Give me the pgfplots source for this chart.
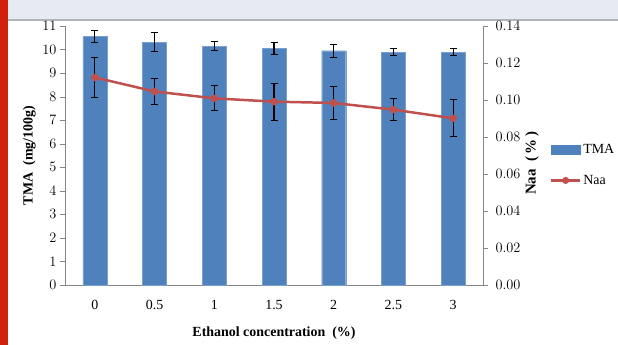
\documentclass[border=0pt]{standalone}
\usepackage{fontspec}
\setmainfont{Liberation Serif}
\usepackage{pgfplots}
\pgfplotsset{compat=1.18}
\definecolor{barblue}{HTML}{4F81BD}
\definecolor{linered}{HTML}{C0504D}
\definecolor{axgray}{HTML}{868686}
\definecolor{topband}{HTML}{E6EBF3}
\definecolor{bandline}{HTML}{B2B5B9}
\definecolor{redstrip}{HTML}{D2200F}
\begin{document}
\begin{tikzpicture}
\useasboundingbox (-65bp,-60bp) rectangle (553bp,285bp);
\fill[white] (-65bp,-60bp) rectangle (553bp,285bp);
\fill[topband] (-65bp,266bp) rectangle (553bp,285bp);
\fill[bandline] (-65bp,264bp) rectangle (553bp,266bp);
\fill[redstrip] (-65bp,-60bp) rectangle (-57bp,285bp);
\begin{axis}[
  at={(0,0)}, anchor=south west,
  scale only axis, width=418bp, height=259bp,
  xmin=-0.5, xmax=6.5, ymin=0, ymax=11,
  ytick={0,1,...,11},
  xtick={0,1,...,6}, xticklabels={0,0.5,1,1.5,2,2.5,3},
  xtick style={draw=none},
  axis y line*=left, axis x line*=bottom,
  axis line style={axgray},
  ytick style={axgray},
  tick align=outside, major tick length=5bp,
  ybar, bar width=24bp,
  ylabel={TMA\ \ (mg/100g)},
  xlabel={Ethanol concentration\ \ (\%)},
  tick label style={font=\fontsize{14}{14}\selectfont},
  xticklabel style={yshift=-7bp},
  xlabel style={at={(axis description cs:0.5,0)}, anchor=center, yshift=-48bp},
  ylabel style={font=\bfseries\fontsize{15}{15}\selectfont},
  label style={font=\bfseries\fontsize{14}{14}\selectfont},
]
\addplot[fill=barblue, draw=barblue!75!white,
  error bars/.cd, y dir=both, y explicit,
  error bar style={black, line width=1.1pt},
  error mark options={black, rotate=90, mark size=3.5bp, line width=1.1pt}]
  coordinates {
  (0,10.55) +- (0,0.27)
  (1,10.31) +- (0,0.41)
  (2,10.15) +- (0,0.20)
  (3,10.05) +- (0,0.25)
  (4,9.95) +- (0,0.28)
  (5,9.89) +- (0,0.16)
  (6,9.89) +- (0,0.15)
  };
\end{axis}
\begin{axis}[
  at={(0,0)}, anchor=south west,
  scale only axis, width=418bp, height=259bp,
  xmin=-0.5, xmax=6.5, ymin=0, ymax=0.14,
  axis y line*=right, axis x line=none,
  axis line style={axgray},
  ytick style={axgray},
  tick align=outside, major tick length=5bp,
  ytick={0,0.02,0.04,0.06,0.08,0.10,0.12,0.14},
  yticklabel style={xshift=4bp, /pgf/number format/.cd, fixed, fixed zerofill, precision=2},
  ylabel={Naa\ \ (\,\%\,)},
  tick label style={font=\fontsize{14}{14}\selectfont},
  ylabel style={font=\bfseries\fontsize{15}{15}\selectfont, at={(axis description cs:1,0.47)}, anchor=center, rotate=0, yshift=-49bp},
  legend style={draw=none, fill=none, at={(1.16,0.463)}, anchor=west,
    font=\fontsize{14}{14}\selectfont, row sep=16bp, inner sep=0pt},
  legend cell align=left,
]
\addlegendimage{legend image code/.code={\fill[barblue] (0bp,-4.5bp) rectangle (29bp,4.5bp);}}
\addlegendentry{TMA}
\addplot[linered, line width=2.5pt, mark=*, mark size=2.5bp,
  mark options={fill=linered, draw=linered},
  legend image code/.code={\draw[linered, line width=2.2pt] (0bp,0bp) -- (29bp,0bp); \fill[linered] (14.5bp,0bp) circle (2.2bp);},
  error bars/.cd, y dir=both, y explicit,
  error bar style={black, line width=1.1pt},
  error mark options={black, rotate=90, mark size=3.5bp, line width=1.1pt}]
  coordinates {
  (0,0.1122) +- (0,0.0110)
  (1,0.1046) +- (0,0.0068)
  (2,0.1009) +- (0,0.0068)
  (3,0.0991) +- (0,0.0100)
  (4,0.0984) +- (0,0.0090)
  (5,0.0948) +- (0,0.0058)
  (6,0.0901) +- (0,0.0100)
  };
\addlegendentry{Naa}
\end{axis}
\end{tikzpicture}
\end{document}
